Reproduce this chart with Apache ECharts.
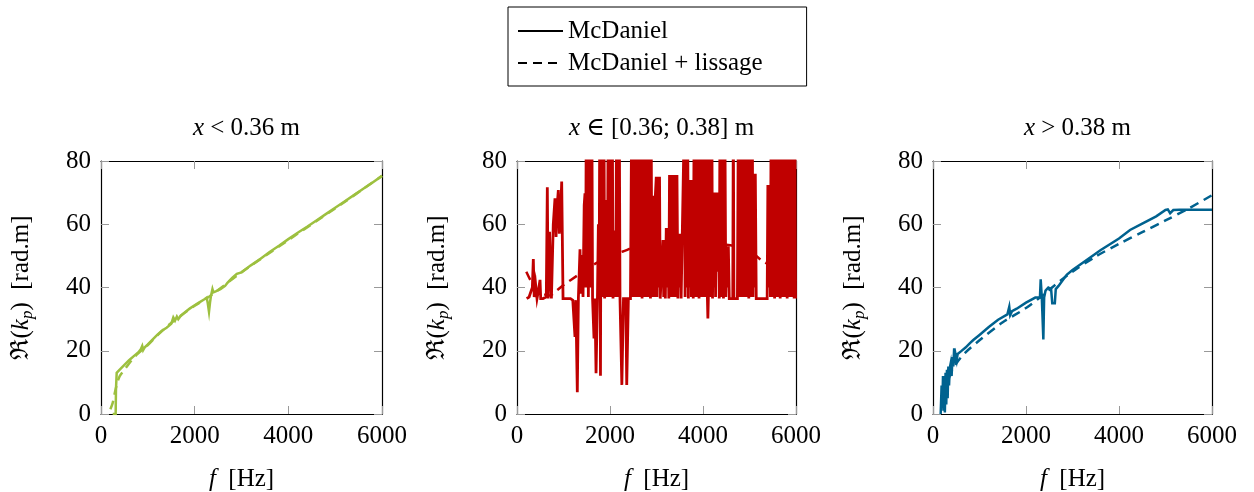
<!DOCTYPE html>
<html>
<head>
<meta charset="utf-8">
<script src="https://cdn.jsdelivr.net/npm/echarts@6/dist/echarts.min.js"></script>
<style>
html,body{margin:0;padding:0;background:#fff;}
#chart{width:1254px;height:492px;}
</style>
</head>
<body>
<div id="chart"></div>
<script>
// ---------- DATA ----------
var xTicks = [0, 2000, 4000, 6000];
var yTicks = [0, 20, 40, 60, 80];
var panelTitles = ['{i|x} < 0.36 m', '{i|x} \u2208 [0.36; 0.38] m', '{i|x} > 0.38 m'];
var legendNames = ['McDaniel', 'McDaniel + lissage'];

// Panel 1 (x < 0.36 m) : [f (Hz), Re(kp)]
var greenRaw = [[250,0],[313,0],[320,8],[335,13],[400,14],[500,15.5],[600,17],[700,18.3],[800,19.5],[850,20.5],[880,21.5],[900,20.2],[930,21],[1000,22],[1100,23.5],[1200,25],[1300,26.3],[1400,27.3],[1500,28.5],[1544,30.5],[1580,29.5],[1620,30.8],[1650,30],[1700,31],[1800,32.3],[1900,33.4],[2000,34.4],[2100,35.3],[2200,36.2],[2257,36.8],[2280,35],[2306,32.3],[2330,35.5],[2350,37.5],[2380,39.5],[2400,38.5],[2450,38.8],[2550,39.5],[2650,40.5],[2700,41.5],[2800,43],[2900,44.3],[3000,44.8],[3200,47],[3400,49],[3600,51.2],[3800,53.2],[4000,55.3],[4200,57.3],[4400,59.2],[4600,61.2],[4800,63.2],[5000,65.2],[5200,67.2],[5400,69.2],[5600,71.2],[5800,73.2],[6000,75.3]];
var greenSmooth = [[200,1.5],[250,3.5],[300,7],[350,10],[400,12],[500,14],[600,16],[700,17.8],[800,19.3],[1000,21.8],[1200,24.8],[1500,28.8],[2000,34.2],[2300,37],[2500,39.2],[3000,44.8],[4000,55],[5000,65],[6000,75.3]];

// Panel 2 (x in [0.36;0.38] m)
var redRaw = [[208,36.5],[260,37],[300,36.5],[330,40],[351,49],[370,37],[400,41],[430,36.5],[460,39],[495,42.4],[510,36.5],[560,36.5],[600,36.5],[630,37],[652,71.7],[670,36.5],[700,57.6],[720,45],[740,36.5],[780,60],[817,68.2],[840,56],[860,65],[889,70.8],[910,57],[940,64],[961,73.5],[990,36.5],[1050,36.5],[1100,36.5],[1150,36.5],[1200,36],[1230,36.5],[1247,24.4],[1265,36],[1297,6.9],[1320,36.5],[1355,52.1],[1375,38],[1391,50.3],[1420,37],[1445,66],[1462,69.8],[1475,40],[1490,95],[1505,45],[1520,95],[1535,37],[1550,75],[1565,50],[1580,95],[1595,40],[1610,95],[1625,36.5],[1656,23.9],[1675,36.5],[1700,12.9],[1715,12.9],[1730,36.5],[1750,60],[1765,36.5],[1780,95],[1795,12.1],[1810,95],[1825,37],[1840,95],[1855,40],[1870,95],[1885,36.5],[1900,67.7],[1915,40],[1930,67],[1945,37],[1960,95],[1975,37],[1990,95],[2005,40],[2020,95],[2035,37],[2050,95],[2065,36.5],[2080,58],[2095,40],[2110,58],[2125,37],[2140,95],[2155,40],[2170,95],[2185,37],[2200,95],[2215,36.5],[2240,36.5],[2255,9.2],[2272,9.2],[2290,36.5],[2340,36.5],[2360,9.2],[2378,9.2],[2395,36.5],[2440,36.5],[2466,95],[2480,37],[2495,95],[2510,40],[2525,95],[2540,37],[2555,95],[2570,45],[2585,95],[2600,37],[2615,95],[2630,40],[2645,95],[2660,37],[2675,95],[2690,36.5],[2705,95],[2720,37],[2735,95],[2750,45],[2765,95],[2780,37],[2795,95],[2810,40],[2825,95],[2840,37],[2855,95],[2870,36.5],[2885,95],[2900,37],[2915,69],[2930,40],[2945,69],[2960,37],[2975,69],[2995,75],[3010,37],[3030,75],[3045,40],[3065,75],[3080,36.5],[3120,36.5],[3140,55],[3155,37],[3175,55],[3190,36.5],[3210,58.8],[3225,40],[3245,58.8],[3265,36.5],[3280,75.6],[3295,37],[3310,75.6],[3325,40],[3340,75.6],[3355,37],[3370,75.6],[3385,45],[3400,75.6],[3415,37],[3440,75.6],[3460,36.5],[3475,57],[3490,40],[3510,57],[3530,36.5],[3570,36.5],[3600,95],[3615,37],[3635,95],[3650,40],[3670,95],[3685,36.5],[3700,74],[3715,40],[3735,74],[3750,37],[3770,74],[3790,36.5],[3810,95],[3825,37],[3840,95],[3855,40],[3870,95],[3885,37],[3900,95],[3915,36.5],[3930,95],[3945,37],[3960,95],[3975,45],[3990,95],[4005,37],[4020,95],[4035,40],[4050,95],[4065,37],[4080,95],[4095,36.5],[4105,30.2],[4115,36.5],[4130,95],[4145,37],[4160,95],[4175,40],[4190,95],[4205,36.5],[4220,70],[4235,40],[4255,70],[4270,37],[4290,70],[4305,45],[4330,70],[4350,36.5],[4365,95],[4380,37],[4395,95],[4410,40],[4425,95],[4440,36.5],[4470,95],[4490,37],[4510,53],[4525,40],[4545,53],[4565,36.5],[4640,36.5],[4652,95],[4665,36.5],[4740,36.5],[4760,95],[4775,37],[4790,95],[4805,40],[4820,95],[4835,37],[4850,95],[4865,45],[4880,95],[4895,37],[4910,95],[4925,40],[4940,95],[4955,37],[4970,95],[4985,36.5],[5000,95],[5015,37],[5030,95],[5045,40],[5060,95],[5075,37],[5090,76],[5105,40],[5125,76],[5145,36.5],[5160,36.5],[5380,36.5],[5395,72.4],[5410,40],[5430,72.4],[5450,37],[5465,95],[5480,37],[5495,95],[5510,40],[5525,95],[5540,36.5],[5555,95],[5570,37],[5585,95],[5600,45],[5615,95],[5630,37],[5645,95],[5660,36.5],[5690,36.5],[5705,95],[5720,37],[5735,95],[5750,40],[5765,95],[5780,37],[5795,95],[5810,36.5],[5840,36.5],[5855,95],[5870,37],[5885,95],[5900,40],[5915,95],[5930,37],[5945,95],[5960,36.5],[5975,95],[5990,36.5],[6000,36.5]];
var redSmooth = [[200,45],[300,42],[400,39.5],[550,38],[700,37.5],[850,39],[1000,40.8],[1300,43.8],[1600,46.8],[2000,50],[2300,51.5],[2500,52.6],[3000,53.7],[3500,54],[4000,54],[4500,53.5],[4940,52.2],[5100,50.5],[5300,48.2],[5600,46],[5870,43.6],[6000,42]];

// Panel 3 (x > 0.38 m)
var blueRaw = [[165,0],[185,9],[200,2],[215,12],[225,1],[240,11],[255,0.5],[270,13],[285,3],[300,14],[315,5],[330,15],[345,9],[360,14.5],[380,16],[400,12],[420,18],[437,15],[455,20.8],[470,16],[490,18.5],[510,17],[530,19],[560,18.5],[600,19.8],[700,21],[800,22.5],[867,23.4],[1000,25],[1200,27.5],[1400,29.8],[1600,31.5],[1640,33.9],[1660,31.3],[1700,32.5],[1800,33.3],[2000,35.2],[2200,36.8],[2300,36.8],[2316,42.6],[2340,36.8],[2373,23.6],[2390,36.8],[2420,39],[2480,40],[2540,39.5],[2565,35],[2620,35],[2640,39.5],[2700,40.5],[2750,41.5],[2875,44],[3000,45.5],[3305,48.7],[3600,51.8],[4000,55.5],[4237,58.2],[4500,60.2],[4800,62.5],[5000,64.5],[5050,64.7],[5100,63.5],[5133,63.3],[5168,64.5],[5300,64.6],[6000,64.6]];
var blueSmooth = [[200,2],[250,6],[300,9.5],[400,13.5],[500,16],[700,19.5],[1000,23.3],[1500,29],[2000,33.5],[2400,38],[2600,40.5],[3000,45],[3500,49.8],[4000,53.8],[4500,57.5],[5000,61.2],[5500,65],[6000,69.2]];

// ---------- STYLE ----------
var FONT = "'Liberation Serif', 'DejaVu Serif', serif";
var FS = 25;
var colors = ['#9dc03f', '#c00000', '#00628f'];
var widths = [2.5, 2.8, 2.5];
var grids = [{left:101, width:281}, {left:517, width:279}, {left:933, width:279}];
var TOP = 161, HEIGHT = 253;
var DASH = [9, 6];
var LW = 2.5;

var rawSets = [greenRaw, redRaw, blueRaw];
var smoothSets = [greenSmooth, redSmooth, blueSmooth];

var option = {
  animation: false,
  backgroundColor: '#fff',
  textStyle: {fontFamily: FONT, color: '#000'},
  title: [],
  grid: [],
  xAxis: [],
  yAxis: [],
  series: [],
  legend: {
    data: legendNames,
    orient: 'vertical',
    left: 508, top: 7,
    padding: [10, 44, 9, 9],
    itemGap: 4,
    itemWidth: 45, itemHeight: 14,
    borderColor: '#000', borderWidth: 1,
    itemStyle: {opacity: 0},
    textStyle: {fontFamily: FONT, fontSize: FS, color: '#000', lineHeight: 28},
    selectedMode: false
  }
};

var richBase = {
  i: {fontFamily: FONT, fontSize: FS, fontStyle: 'italic', color: '#000'},
  n: {fontFamily: FONT, fontSize: FS, color: '#000'},
  s: {fontFamily: FONT, fontSize: 17, fontStyle: 'italic', color: '#000', padding: [12, 0, 0, 0]}
};

function plainNum(v) { return String(v); }

for (var k = 0; k < 3; k++) {
  var g = grids[k];
  option.grid.push({left: g.left, width: g.width, top: TOP, height: HEIGHT, containLabel: false, outerBoundsMode: 'none'});
  option.title.push({
    text: panelTitles[k],
    left: g.left + g.width / 2,
    textAlign: 'center',
    top: 111,
    textStyle: {fontFamily: FONT, fontSize: FS, fontWeight: 'normal', color: '#000', rich: richBase}
  });
}
// bottom x axes
for (var k = 0; k < 3; k++) {
  option.xAxis.push({
    type: 'value', gridIndex: k, position: 'bottom', min: xTicks[0], max: xTicks[xTicks.length - 1], interval: xTicks[1] - xTicks[0],
    name: '{i|f}  [Hz]', nameLocation: 'middle', nameGap: 53,
    nameTextStyle: {fontFamily: FONT, fontSize: FS, color: '#000', rich: richBase},
    axisLine: {show: true, onZero: false, lineStyle: {color: '#000', width: 1.2}},
    axisTick: {show: true, inside: true, length: 8, lineStyle: {color: '#999', width: 1}},
    axisLabel: {show: true, margin: 10, fontFamily: FONT, fontSize: FS, color: '#000', formatter: plainNum},
    splitLine: {show: false}
  });
}
// top mirrored x axes
for (var k = 0; k < 3; k++) {
  option.xAxis.push({
    type: 'value', gridIndex: k, position: 'top', min: xTicks[0], max: xTicks[xTicks.length - 1], interval: xTicks[1] - xTicks[0],
    axisLine: {show: true, onZero: false, lineStyle: {color: '#000', width: 1.2}},
    axisTick: {show: true, inside: true, length: 8, lineStyle: {color: '#999', width: 1}},
    axisLabel: {show: false},
    splitLine: {show: false}
  });
}
// left y axes
for (var k = 0; k < 3; k++) {
  option.yAxis.push({
    type: 'value', gridIndex: k, position: 'left', min: yTicks[0], max: yTicks[yTicks.length - 1], interval: yTicks[1] - yTicks[0],
    name: '{n|\u211C(}{i|k}{s|p}{n|)  [rad.m]}', nameLocation: 'middle', nameGap: 65, nameRotate: 90,
    nameTextStyle: {fontFamily: FONT, fontSize: FS, color: '#000', rich: richBase},
    axisLine: {show: true, onZero: false, lineStyle: {color: '#000', width: 1.2}},
    axisTick: {show: true, inside: true, length: 8, lineStyle: {color: '#999', width: 1}},
    axisLabel: {show: true, margin: 10, fontFamily: FONT, fontSize: FS, color: '#000', formatter: plainNum},
    splitLine: {show: false}
  });
}
// right mirrored y axes
for (var k = 0; k < 3; k++) {
  option.yAxis.push({
    type: 'value', gridIndex: k, position: 'right', min: yTicks[0], max: yTicks[yTicks.length - 1], interval: yTicks[1] - yTicks[0],
    axisLine: {show: true, onZero: false, lineStyle: {color: '#000', width: 1.2}},
    axisTick: {show: true, inside: true, length: 8, lineStyle: {color: '#999', width: 1}},
    axisLabel: {show: false},
    splitLine: {show: false}
  });
}
// data series: dashed (smoothed) first, raw solid on top
for (var k = 0; k < 3; k++) {
  option.series.push({
    name: 'smooth' + k, type: 'line', xAxisIndex: k, yAxisIndex: k,
    data: smoothSets[k], symbol: 'none', clip: true, smooth: 0.3,
    lineStyle: {color: colors[k], width: LW, type: DASH}, z: 2
  });
  option.series.push({
    name: 'raw' + k, type: 'line', xAxisIndex: k, yAxisIndex: k,
    data: rawSets[k], symbol: 'none', clip: true,
    lineStyle: {color: colors[k], width: widths[k], type: 'solid', join: 'miter'}, z: 3
  });
}
// legend entries (black, no data)
option.series.push({name: legendNames[0], type: 'line', xAxisIndex: 0, yAxisIndex: 0, data: [], symbol: 'none',
  itemStyle: {color: '#000', opacity: 0}, lineStyle: {color: '#000', width: LW, type: 'solid'}});
option.series.push({name: legendNames[1], type: 'line', xAxisIndex: 0, yAxisIndex: 0, data: [], symbol: 'none',
  itemStyle: {color: '#000', opacity: 0}, lineStyle: {color: '#000', width: LW, type: DASH}});

var chart = echarts.init(document.getElementById('chart'), null, {renderer: 'canvas'});
chart.setOption(option);
</script>
</body>
</html>
